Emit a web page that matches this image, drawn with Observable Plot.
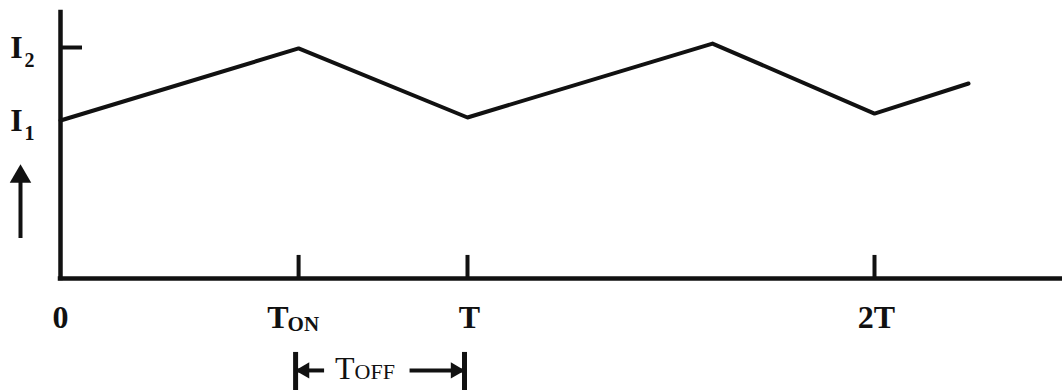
<!DOCTYPE html>
<html><head><meta charset="utf-8">
<script src="https://cdn.jsdelivr.net/npm/d3@7"></script>
<script src="https://cdn.jsdelivr.net/npm/@observablehq/plot@0.6"></script>
<style>html,body{margin:0;padding:0;background:#fff} svg{display:block}</style>
</head><body><div id="chart"></div>
<script>
// Waveform (time in units of T, current in units of I1)
const waveX = [0, 0.585, 1, 1.602, 2, 2.231];
const waveY = [1.0, 1.456, 1.019, 1.487, 1.044, 1.234];
// Y level labels
const levelNames = ["I", "I"];
const levelSubs = ["2", "1"];
const levelValues = [1.462, 1.0];
// X tick labels
const tickValues = [0.585, 1, 2];
const tickNames = ["T", "T", "2T"];
const tickSubs = ["ON", "", ""];
const originLabel = ["0"];
// T_OFF interval annotation
const offInterval = [0.585, 1];
const offName = ["T"];
const offSub = ["OFF"];
// axis extents
const axisXMax = 2.457;
const axisYMax = 1.684;
const upArrow = [0.253, 0.70];

const font = "Liberation Serif";
const base = {fontFamily: font, fontWeight: "bold", fill: "#111"};
const offY = -0.582;

const pts = waveX.map((x, i) => ({x, y: waveY[i]}));

const chart = Plot.plot({
  width: 1062, height: 390,
  marginLeft: 0, marginRight: 0, marginTop: 0, marginBottom: 0,
  x: {domain: [-60/407, 1002/407], range: [0, 1062], axis: null},
  y: {domain: [-112/158, 278/158], range: [390, 0], axis: null},
  style: {background: "#fff"},
  marks: [
    // axes
    Plot.ruleX([0], {y1: 0, y2: axisYMax, stroke: "#111", strokeWidth: 4.5, strokeLinecap: "square"}),
    Plot.ruleY([0], {x1: 0, x2: axisXMax, stroke: "#111", strokeWidth: 4.5, strokeLinecap: "square"}),
    // I2 tick
    Plot.ruleY([levelValues[0]], {x1: 0, x2: 0.054, stroke: "#111", strokeWidth: 4}),
    // x ticks
    Plot.ruleX(tickValues, {y1: 0, y2: 0.146, stroke: "#111", strokeWidth: 4}),
    // waveform
    Plot.line(pts, {x: "x", y: "y", stroke: "#111", strokeWidth: 4, strokeLinejoin: "round"}),
    // level labels
    Plot.text(levelValues, {x: 0, y: d => d, text: (d, i) => levelNames[i], dx: -44, textAnchor: "middle", lineAnchor: "middle", fontSize: 32, ...base}),
    Plot.text(levelValues, {x: 0, y: d => d, text: (d, i) => levelSubs[i], dx: -36, dy: 13, textAnchor: "start", lineAnchor: "middle", fontSize: 20, ...base}),
    // up arrow
    Plot.ruleX([0], {y1: upArrow[0], y2: upArrow[1] - 0.06, dx: -40, stroke: "#111", strokeWidth: 4}),
    Plot.dot([0], {x: 0, y: upArrow[1] - 0.055, dx: -40, symbol: "triangle", r: 8, fill: "#111", stroke: "none"}),
    // x labels
    Plot.text(originLabel, {x: 0, y: 0, text: d => d, dy: 49, textAnchor: "middle", lineAnchor: "bottom", fontSize: 32, ...base}),
    Plot.text(tickValues, {x: d => d, y: 0, text: (d, i) => tickNames[i], dx: 2, dy: 49, textAnchor: "middle", lineAnchor: "bottom", fontSize: 32, ...base,
      filter: (d, i) => !tickSubs[i]}),
    Plot.text(tickValues, {x: d => d, y: 0, text: (d, i) => tickNames[i], dx: -10, dy: 49, textAnchor: "end", lineAnchor: "bottom", fontSize: 32, ...base,
      filter: (d, i) => !!tickSubs[i]}),
    Plot.text(tickValues, {x: d => d, y: 0, text: (d, i) => tickSubs[i], dx: -11, dy: 52, textAnchor: "start", lineAnchor: "bottom", fontSize: 21, ...base,
      filter: (d, i) => !!tickSubs[i]}),
    // T_OFF bracket
    Plot.ruleX(offInterval, {y1: -0.468, y2: -0.72, dx: -3, stroke: "#111", strokeWidth: 5}),
    Plot.link([offInterval], {x1: d => d[0], x2: d => d[0] + 0.07, y1: offY, y2: offY, dx: -3, stroke: "#111", strokeWidth: 4}),
    Plot.link([offInterval], {x1: d => d[1] - 0.135, x2: d => d[1], y1: offY, y2: offY, dx: -3, stroke: "#111", strokeWidth: 4}),
    Plot.dot([offInterval[0]], {x: d => d, y: offY, dx: 6, symbol: "triangle", rotate: -90, r: 6, fill: "#111", stroke: "none"}),
    Plot.dot([offInterval[1]], {x: d => d, y: offY, dx: -12, symbol: "triangle", rotate: 90, r: 6, fill: "#111", stroke: "none"}),
    Plot.text(offName, {x: offInterval[0], y: offY, text: d => d, dx: 56, dy: 9, textAnchor: "end", lineAnchor: "bottom", fontSize: 32, ...base, fontWeight: "normal"}),
    Plot.text(offSub, {x: offInterval[0], y: offY, text: d => d, dx: 56, dy: 9, textAnchor: "start", lineAnchor: "bottom", fontSize: 22, ...base, fontWeight: "normal", letterSpacing: "1px"})
  ]
});
document.getElementById("chart").appendChild(chart);
</script>
</body></html>
